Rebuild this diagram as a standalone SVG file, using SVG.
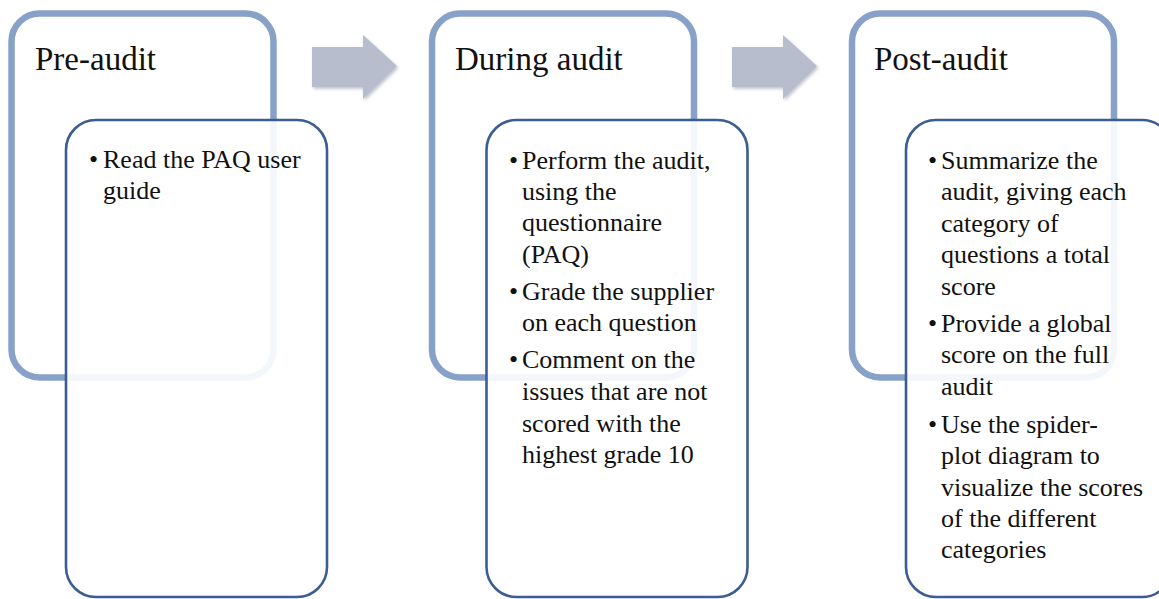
<svg xmlns="http://www.w3.org/2000/svg" width="1159" height="599" viewBox="0 0 1159 599">
<style>
.outer{fill:none;stroke:#88a1c8;stroke-width:6.5}
.inner{fill:#ffffff;fill-opacity:0.9;stroke:#3b5d91;stroke-width:2.6}
.title{font-family:"Liberation Serif","Times New Roman",serif;font-size:33px;fill:#111111}
.txt{font-family:"Liberation Serif","Times New Roman",serif;font-size:26px;fill:#111111}
.arrow{fill:#b7bdcc}
</style>
<defs>
<filter id="sh" x="-20%" y="-20%" width="150%" height="150%">
<feDropShadow dx="1.5" dy="2" stdDeviation="1.5" flood-color="#7a8294" flood-opacity="0.45"/>
</filter>
</defs>
<rect width="1159" height="599" fill="#ffffff"/>
<g id="connectors">
<path class="arrow" filter="url(#sh)" d="M312,47 H363 V35 L397,66 L363,99 V87 H312 Z"/>
<path class="arrow" filter="url(#sh)" d="M732,47 H783 V35 L817,66 L783,99 V87 H732 Z"/>
</g>
<g id="pre-audit">
<rect class="outer" x="11.5" y="13.5" width="262" height="364" rx="28"/>
<text class="title" x="35" y="70">Pre-audit</text>
</g>
<g id="during-audit">
<rect class="outer" x="432" y="13.5" width="262" height="364" rx="28"/>
<text class="title" x="455" y="70">During audit</text>
</g>
<g id="post-audit">
<rect class="outer" x="852" y="13.5" width="262" height="364" rx="28"/>
<text class="title" x="874" y="70">Post-audit</text>
</g>
<g id="pre-audit-tasks">
<rect class="inner" x="66" y="120" width="261" height="477" rx="30"/>
<text class="txt" x="89" y="168">•</text>
<text class="txt" x="103" y="168">Read the PAQ user</text>
<text class="txt" x="103" y="199">guide</text>
</g>
<g id="during-audit-tasks">
<rect class="inner" x="486.5" y="120" width="261" height="477" rx="30"/>
<text class="txt" x="509" y="169">•</text>
<text class="txt" x="522" y="169">Perform the audit,</text>
<text class="txt" x="522" y="200">using the</text>
<text class="txt" x="522" y="231">questionnaire</text>
<text class="txt" x="522" y="263">(PAQ)</text>
<text class="txt" x="509" y="300">•</text>
<text class="txt" x="522" y="300">Grade the supplier</text>
<text class="txt" x="522" y="331">on each question</text>
<text class="txt" x="509" y="368">•</text>
<text class="txt" x="522" y="368">Comment on the</text>
<text class="txt" x="522" y="400">issues that are not</text>
<text class="txt" x="522" y="432">scored with the</text>
<text class="txt" x="522" y="463">highest grade 10</text>
</g>
<g id="post-audit-tasks">
<rect class="inner" x="906" y="120" width="266" height="477" rx="30"/>
<text class="txt" x="928" y="169">•</text>
<text class="txt" x="941" y="169">Summarize the</text>
<text class="txt" x="941" y="200">audit, giving each</text>
<text class="txt" x="941" y="232">category of</text>
<text class="txt" x="941" y="263">questions a total</text>
<text class="txt" x="941" y="295">score</text>
<text class="txt" x="928" y="332">•</text>
<text class="txt" x="941" y="332">Provide a global</text>
<text class="txt" x="941" y="363">score on the full</text>
<text class="txt" x="941" y="395">audit</text>
<text class="txt" x="928" y="433">•</text>
<text class="txt" x="941" y="433">Use the spider-</text>
<text class="txt" x="941" y="464">plot diagram to</text>
<text class="txt" x="941" y="496">visualize the scores</text>
<text class="txt" x="941" y="527">of the different</text>
<text class="txt" x="941" y="558">categories</text>
</g>
</svg>
